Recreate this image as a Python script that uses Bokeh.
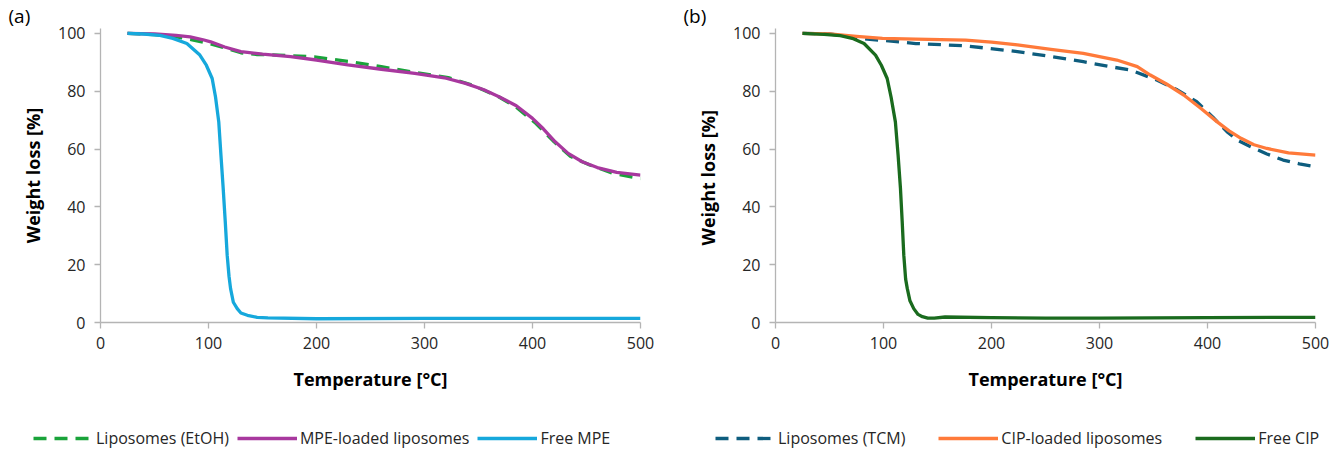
from bokeh.plotting import figure
from bokeh.layouts import row, column
from bokeh.models import Range1d, Legend, LegendItem, Title, FixedTicker
from bokeh.embed import file_html
from bokeh.resources import INLINE

# ---------------- data (a) ----------------
etoh_T = [25, 50, 70, 85, 100, 115, 130, 145, 165, 198, 230, 260, 290, 322, 345, 369, 385, 403, 420, 435, 453, 475, 500]
etoh_W = [100, 99.6, 98.8, 97.8, 96.6, 95.0, 93.3, 92.7, 92.5, 91.9, 90.3, 88.5, 86.6, 84.7, 82.0, 78.0, 74.5, 68.9, 62.5, 57.5, 54.5, 51.5, 49.8]

mpe_lip_T = [25, 50, 70, 83, 95, 102, 115, 130, 150, 176, 200, 229, 260, 291, 320, 338, 355, 369, 385, 400, 410, 421, 433, 446, 460, 478, 500]
mpe_lip_W = [100, 99.8, 99.3, 98.8, 97.8, 97.1, 95.3, 93.7, 92.8, 92.0, 90.8, 89.1, 87.6, 86.2, 84.5, 82.7, 80.5, 78.1, 75.0, 70.6, 67.0, 62.5, 58.5, 55.6, 53.6, 51.9, 51.0]

free_mpe_T = [25, 40, 55, 67, 80, 92, 98, 103.4, 106.5, 109.5, 111.5, 113.6, 115.5, 117.3, 119, 120.4, 123, 126.6, 130, 136, 145, 155, 200, 300, 400, 500]
free_mpe_W = [100, 99.8, 99.3, 98.3, 96.5, 92.5, 89.0, 84.4, 78.0, 69.4, 58.0, 46.4, 35.0, 23.3, 16.0, 11.8, 7.0, 4.8, 3.3, 2.5, 1.8, 1.6, 1.3, 1.4, 1.4, 1.4]

# ---------------- data (b) ----------------
tcm_T = [25, 50, 70, 85, 99, 130, 176, 224, 255, 285, 310, 329, 353, 372, 390, 405, 418, 428, 440, 455, 470, 485, 500]
tcm_W = [100, 99.8, 98.8, 98.0, 97.6, 96.5, 95.7, 93.7, 92.0, 90.2, 88.5, 87.3, 83.9, 80.5, 76.4, 71.0, 66.0, 63.0, 60.8, 58.3, 56.2, 54.9, 53.9]

cip_lip_T = [25, 50, 75, 99, 130, 176, 200, 224, 255, 285, 316, 335, 347, 362, 378, 394, 409, 420, 431, 443, 455, 475, 500]
cip_lip_W = [100, 99.8, 99.0, 98.3, 98.0, 97.7, 97.0, 96.0, 94.5, 93.1, 90.8, 88.5, 85.6, 82.5, 78.7, 74.0, 69.4, 66.3, 63.7, 61.5, 60.2, 58.7, 57.9]

free_cip_T = [25, 45, 60, 71, 82, 92.6, 98, 103.4, 107, 111, 113.5, 115.7, 117.3, 118.8, 120.5, 122, 124.5, 128, 132, 136, 141, 147, 157, 200, 250, 300, 400, 500]
free_cip_W = [100, 99.7, 99.2, 98.3, 96.5, 92.5, 89.0, 84.4, 78.0, 69.4, 58.0, 46.4, 35.0, 23.3, 15.0, 11.8, 7.5, 4.8, 2.8, 2.0, 1.5, 1.5, 1.9, 1.7, 1.5, 1.5, 1.7, 1.8]

x_ticks = [0, 100, 200, 300, 400, 500]
y_ticks = [0, 20, 40, 60, 80, 100]

FONT = "Open Sans"
AXIS_GREY = "#B4B4B4"
TEXT = "#262626"
DASH = "13 8"


def make_panel(tag, ylabel, series, border_left, border_right):
    p = figure(frame_width=540, frame_height=294,
               x_range=Range1d(0, 500), y_range=Range1d(0, 101.7),
               output_backend="svg", toolbar_location=None,
               min_border_left=border_left, min_border_right=border_right,
               min_border_top=0, min_border_bottom=0)
    p.outline_line_color = None
    p.xgrid.visible = False
    p.ygrid.visible = False
    p.background_fill_color = "white"
    p.border_fill_color = "white"

    t = Title(text=tag, align="left", offset=-92, standoff=0,
              text_font=FONT, text_font_size="19px", text_font_style="normal",
              text_color="#000000")
    p.add_layout(t, "above")

    for ax in (p.xaxis[0], p.yaxis[0]):
        ax.axis_line_color = AXIS_GREY
        ax.axis_line_width = 1.3
        ax.major_tick_line_color = AXIS_GREY
        ax.major_tick_line_width = 1.3
        ax.minor_tick_line_color = None
        ax.major_tick_in = 0
        ax.major_tick_out = 6
        ax.major_label_text_font = FONT
        ax.major_label_text_font_size = "16px"
        ax.major_label_text_color = TEXT
        ax.axis_label_text_font = FONT
        ax.axis_label_text_font_style = "bold"
        ax.axis_label_text_font_size = "18px"
        ax.axis_label_text_color = "#000000"

    p.xaxis.ticker = FixedTicker(ticks=x_ticks)
    p.yaxis.ticker = FixedTicker(ticks=y_ticks)
    p.xaxis.axis_label = "Temperature [°C]"
    p.yaxis.axis_label = ylabel
    p.xaxis.major_label_standoff = 8
    p.xaxis.axis_label_standoff = 15
    p.yaxis.major_label_standoff = 9
    p.yaxis.axis_label_standoff = 10

    for name, xs, ys, color, dash in series:
        p.line(xs, ys, line_color=color, line_width=3.3,
               line_dash=dash if dash else "solid", line_join="round")
    return p


def make_legend(series, width, x0, spacing):
    # the series are drawn again, but outside this strip's visible range,
    # so only their legend samples show
    lf = figure(width=width, height=56, x_range=Range1d(-20, -10), y_range=Range1d(0, 1),
                output_backend="svg", toolbar_location=None,
                x_axis_location=None, y_axis_location=None,
                min_border=0)
    lf.outline_line_color = None
    lf.xgrid.visible = False
    lf.ygrid.visible = False
    items = []
    for name, xs, ys, color, dash in series:
        r = lf.line(xs, ys, line_color=color, line_width=3.3,
                    line_dash=dash if dash else "solid")
        items.append(LegendItem(label=name, renderers=[r]))
    leg = Legend(items=items, orientation="horizontal", location=(x0, 0))
    leg.glyph_width = 60
    leg.glyph_height = 16
    leg.label_text_font = FONT
    leg.label_text_font_size = "16px"
    leg.label_text_color = TEXT
    leg.label_standoff = 3
    leg.spacing = spacing
    leg.padding = 0
    leg.margin = 0
    leg.border_line_color = None
    leg.background_fill_alpha = 0
    lf.add_layout(leg, "center")
    return lf


series_a = [
    ("Liposomes (EtOH)", etoh_T, etoh_W, "#19A33A", DASH),
    ("MPE-loaded liposomes", mpe_lip_T, mpe_lip_W, "#A8389E", None),
    ("Free MPE", free_mpe_T, free_mpe_W, "#16A8DC", None),
]
series_b = [
    ("Liposomes (TCM)", tcm_T, tcm_W, "#0E5D7E", DASH),
    ("CIP-loaded liposomes", cip_lip_T, cip_lip_W, "#FF7A3A", None),
    ("Free CIP", free_cip_T, free_cip_W, "#1A6B1E", None),
]

pa = make_panel("(a)", "Weight loss [%]", series_a, 100, 38)
pb = make_panel("(b)", "Weight loss  [%]", series_b, 97, 22)
la = make_legend(series_a, 678, 33, 8)
lb = make_legend(series_b, 659, 37, 33)

layout = column(row(pa, pb, spacing=0), row(la, lb, spacing=0), spacing=0)
open("out.html", "w").write(file_html(layout, INLINE))
